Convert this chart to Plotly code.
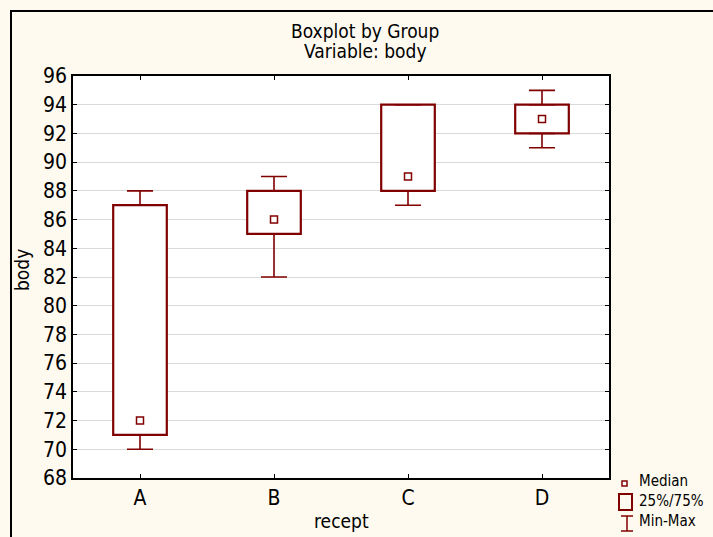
import plotly.graph_objects as go

# Box summary per recipe group
groups = ["A", "B", "C", "D"]
minimum = [70, 82, 87, 91]
q1 = [71, 85, 88, 92]
median = [72, 86, 89, 93]
q3 = [87, 88, 94, 94]
maximum = [88, 89, 94, 95]

y_ticks = list(range(68, 97, 2))

RED = "#800000"
FONT = "Liberation Sans Narrow, Arial Narrow, DejaVu Sans Condensed, sans-serif"
W, H = 713, 537
ML, MR, MT, MB = 73, 104, 76, 59
PW, PH = W - ML - MR, H - MT - MB


def px_x(p):
    return (p - ML) / PW


def px_y(p):
    return (H - MB - p) / PH


fig = go.Figure()

# 25%-75% boxes
fig.add_trace(go.Bar(
    x=groups, base=q1, y=[b - a for a, b in zip(q1, q3)],
    width=0.4, marker=dict(color="white", line=dict(color=RED, width=2.2)),
    showlegend=False, hoverinfo="skip",
))

# upper whiskers (q3 -> max)
fig.add_trace(go.Scatter(
    x=groups, y=q3, mode="markers",
    marker=dict(size=1, color="rgba(0,0,0,0)"),
    error_y=dict(type="data", symmetric=False,
                 array=[b - a for a, b in zip(q3, maximum)],
                 arrayminus=[0] * len(groups),
                 width=13, thickness=1.6, color=RED),
    showlegend=False, hoverinfo="skip",
))

# lower whiskers (q1 -> min)
fig.add_trace(go.Scatter(
    x=groups, y=q1, mode="markers",
    marker=dict(size=1, color="rgba(0,0,0,0)"),
    error_y=dict(type="data", symmetric=False,
                 array=[0] * len(groups),
                 arrayminus=[a - b for a, b in zip(q1, minimum)],
                 width=13, thickness=1.6, color=RED),
    showlegend=False, hoverinfo="skip",
))

# medians
fig.add_trace(go.Scatter(
    x=groups, y=median, mode="markers",
    marker=dict(symbol="square", size=7, color="white",
                line=dict(color=RED, width=1.5)),
    showlegend=False,
))

fig.update_layout(
    width=W, height=H,
    margin=dict(l=ML, r=MR, t=MT, b=MB),
    paper_bgcolor="#FEFAEF", plot_bgcolor="white",
    font=dict(family=FONT, size=20, color="black"),
    showlegend=False,
)

fig.update_xaxes(
    type="category", range=[-0.5, 3.5],
    showline=True, linecolor="black", linewidth=1.5, mirror="ticks",
    ticks="inside", ticklen=4, tickcolor="black", tickwidth=1,
    showgrid=False, tickfont=dict(size=21),
)
fig.update_yaxes(
    range=[68, 96], tickvals=y_ticks,
    showline=True, linecolor="black", linewidth=1.5, mirror="ticks",
    ticks="inside", ticklen=4, tickcolor="black", tickwidth=1,
    showgrid=True, gridcolor="#DADADA", gridwidth=1,
    tickfont=dict(size=21), zeroline=False,
)

annotations = [
    dict(text="Boxplot by Group", x=px_x(365), y=px_y(31), size=19),
    dict(text="Variable: body", x=px_x(365), y=px_y(51), size=19),
    dict(text="recept", x=px_x(341), y=px_y(521), size=19),
    dict(text="body", x=px_x(22), y=px_y(270), textangle=-90, size=19),
    dict(text="Median", x=px_x(637), y=px_y(481), xanchor="left", size=15),
    dict(text="25%/75%", x=px_x(637), y=px_y(501), xanchor="left", size=15),
    dict(text="Min-Max", x=px_x(637), y=px_y(521), xanchor="left", size=15),
]
for a in annotations:
    size = a.pop("size")
    a.update(xref="paper", yref="paper", showarrow=False,
             font=dict(family=FONT, size=size, color="black"))
    a.setdefault("xanchor", "center")
    a["yanchor"] = "middle"
fig.update_layout(annotations=annotations)

shapes = [
    # outer frame
    dict(type="rect", x0=px_x(11), y0=px_y(600), x1=px_x(800), y1=px_y(11),
         line=dict(color="black", width=2)),
    # legend: median marker
    dict(type="rect", x0=px_x(622), x1=px_x(627), y0=px_y(486), y1=px_y(481),
         line=dict(color=RED, width=1.5), fillcolor="white"),
    # legend: box
    dict(type="rect", x0=px_x(619), x1=px_x(632), y0=px_y(510), y1=px_y(494),
         line=dict(color=RED, width=2), fillcolor="rgba(0,0,0,0)"),
    # legend: whisker
    dict(type="line", x0=px_x(627), x1=px_x(627), y0=px_y(516), y1=px_y(531),
         line=dict(color=RED, width=1.5)),
    dict(type="line", x0=px_x(621), x1=px_x(633), y0=px_y(516), y1=px_y(516),
         line=dict(color=RED, width=1.5)),
    dict(type="line", x0=px_x(621), x1=px_x(633), y0=px_y(531), y1=px_y(531),
         line=dict(color=RED, width=1.5)),
]
for s in shapes:
    s.update(xref="paper", yref="paper", layer="above")
fig.update_layout(shapes=shapes)

fig.write_html("out.html")
